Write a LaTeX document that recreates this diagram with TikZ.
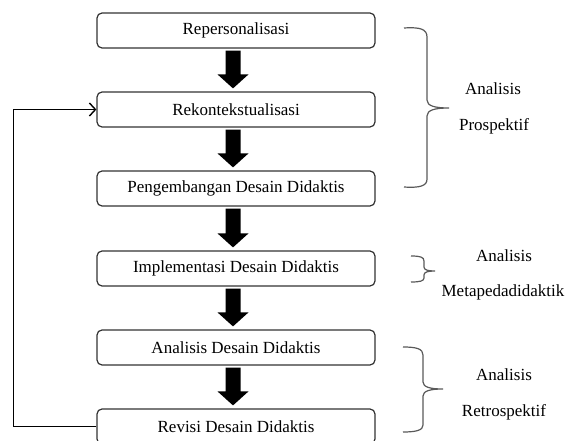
\documentclass[tikz,border=0pt]{standalone}
\usepackage{fontspec}
\setmainfont{Liberation Serif}
\usetikzlibrary{arrows.meta,calc}
\newcommand\blockarrow[2]{\fill let \p1=(#1.south), \p2=(#2.north) in
  (\x1-10.5pt,\y1-2pt) -- (\x1+4.5pt,\y1-2pt) -- (\x1+4.5pt,\y2+17pt) -- (\x1+12.5pt,\y2+17pt)
  -- (\x1-3pt,\y2+3pt) -- (\x1-18.5pt,\y2+17pt) -- (\x1-10.5pt,\y2+17pt) -- cycle;}
\begin{document}
\begin{tikzpicture}[x=1pt,y=-1pt,
  box/.style={draw=black!80, line width=1.2pt, rounded corners=5pt, minimum width=278pt,
    minimum height=35pt, inner sep=0pt, font=\fontsize{17}{20}\selectfont},
  lbl/.style={font=\fontsize{17}{20}\selectfont, inner sep=0pt},
  brace/.style={draw=black!65, line width=1.2pt},
  fb/.style={draw=black, line width=1.4pt, -{Straight Barb[length=6pt,width=13pt]}}]
\useasboundingbox (0,0) rectangle (566,441);
\clip (0,0) rectangle (566,441);
\node[box] (b1) at (236,30.5) {Repersonalisasi};
\node[box] (b2) at (236,109.5) {Rekontekstualisasi};
\node[box] (b3) at (236,188.5) {Pengembangan Desain Didaktis};
\node[box] (b4) at (236,268.5) {Implementasi Desain Didaktis};
\node[box] (b5) at (236,347.5) {Analisis Desain Didaktis};
\node[box] (b6) at (236,426.5) {Revisi Desain Didaktis};
\blockarrow{b1}{b2}
\blockarrow{b2}{b3}
\blockarrow{b3}{b4}
\blockarrow{b4}{b5}
\blockarrow{b5}{b6}
\draw[fb] (b6.west) -- ++(-83,0) |- (b2.west);
% braces
\draw[brace] (404,28) .. controls (420,27) and (427,29) .. (427,37) -- (427,100)
  .. controls (427,106) and (435,108) .. (449,108)
  .. controls (435,108) and (427,110) .. (427,116) -- (427,179)
  .. controls (427,186) and (420,188) .. (404,187);
\draw[brace] (411,256) .. controls (420,256) and (424,257) .. (424,261) -- (424,267)
  .. controls (424,270) and (428,271) .. (435,271)
  .. controls (428,271) and (424,272) .. (424,275) -- (424,278)
  .. controls (424,281) and (420,282) .. (411,282);
\draw[brace] (403,347) .. controls (417,347) and (423,349) .. (423,355) -- (423,382)
  .. controls (423,387) and (430,389) .. (443,389)
  .. controls (430,389) and (423,391) .. (423,396) -- (423,425)
  .. controls (423,430) and (417,432) .. (403,432);
\node[lbl] (l1a) at (493,89) {Analisis};
\node[lbl] (l1b) at (494,126) {Prospektif};
\node[lbl] (l2a) at (504,256) {Analisis};
\node[lbl] (l2b) at (503,292) {Metapedadidaktik};
\node[lbl] (l3a) at (504,375) {Analisis};
\node[lbl] (l3b) at (504,412) {Retrospektif};
\end{tikzpicture}
\end{document}
